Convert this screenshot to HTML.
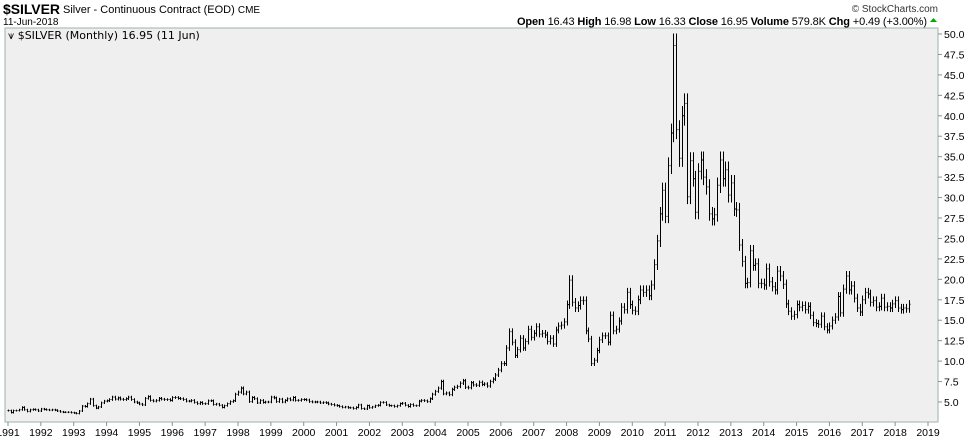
<!DOCTYPE html>
<html><head><meta charset="utf-8"><style>
body{margin:0;background:#fff;width:976px;height:442px;overflow:hidden;font-family:"Liberation Sans",Arial,sans-serif;}
svg{position:absolute;left:0;top:0}
</style></head><body>
<svg id="c" width="976" height="442">
<text x="3" y="14" font-size="14" font-weight="bold" textLength="57">$SILVER</text>
<text x="63" y="13" font-size="11">Silver - Continuous Contract (EOD) <tspan font-size="10">CME</tspan></text>
<text x="3" y="25" font-size="10">11-Jun-2018</text>
<text x="938" y="12" font-size="10" text-anchor="end" fill="#333">© StockCharts.com</text>
<text x="927" y="25" font-size="11" text-anchor="end" textLength="410"><tspan font-weight="bold">Open</tspan> 16.43 <tspan font-weight="bold">High</tspan> 16.98 <tspan font-weight="bold">Low</tspan> 16.33 <tspan font-weight="bold">Close</tspan> 16.95 <tspan font-weight="bold">Volume</tspan> 579.8K <tspan font-weight="bold">Chg</tspan> +0.49 (+3.00%)</text>
<polygon points="930,22 937,22 933.5,18" fill="#0a0"/>
<rect x="5" y="28" width="933" height="394" fill="#efefef" stroke="#9db3ab"/>
<text x="8" y="39" font-size="11" font-family="DejaVu Sans, sans-serif">⩛ $SILVER (Monthly) 16.95 (11 Jun)</text>
<g id="bars"></g>
<g id="yax"></g>
<g id="xax"></g>
</svg>
<script>
const yTicks=[5,7.5,10,12.5,15,17.5,20,22.5,25,27.5,30,32.5,35,37.5,40,42.5,45,47.5,50];
const years=[1991,1992,1993,1994,1995,1996,1997,1998,1999,2000,2001,2002,2003,2004,2005,2006,2007,2008,2009,2010,2011,2012,2013,2014,2015,2016,2017,2018,2019];
const closes=[
3.95,3.70,3.95,3.95,4.05,4.35,4.05,3.85,4.05,4.10,4.05,3.90,
4.15,4.10,4.05,4.00,4.05,4.00,3.90,3.80,3.75,3.75,3.75,3.70,
3.65,3.60,3.90,4.50,4.45,4.80,5.35,4.55,4.25,4.40,4.90,5.10,
5.15,5.30,5.60,5.35,5.50,5.35,5.30,5.40,5.60,5.30,5.00,4.90,
4.75,4.65,5.45,5.65,5.20,5.10,5.20,5.45,5.35,5.30,5.30,5.20,
5.55,5.55,5.45,5.40,5.30,5.10,5.10,5.20,4.95,4.80,4.95,4.80,
4.80,5.15,5.15,4.70,4.75,4.60,4.35,4.55,4.80,5.05,5.15,5.95,
6.20,6.70,6.00,6.20,5.05,5.55,5.40,4.90,5.20,4.95,5.00,5.00,
5.60,5.50,5.05,5.35,5.00,5.20,5.40,5.25,5.55,5.20,5.20,5.30,
5.30,5.25,5.05,5.00,5.00,5.00,4.90,4.95,4.90,4.75,4.70,4.60,
4.55,4.45,4.35,4.40,4.30,4.30,4.20,4.35,4.65,4.20,4.15,4.55,
4.30,4.40,4.55,4.60,4.95,4.95,4.65,4.55,4.55,4.45,4.55,4.80,
4.85,4.60,4.45,4.70,4.55,4.55,5.10,5.20,5.15,5.05,5.40,5.95,
6.30,6.70,7.50,6.00,6.10,5.90,6.55,6.80,6.90,7.30,7.60,6.80,
6.75,7.35,7.10,7.05,7.40,7.15,7.20,6.95,7.50,7.80,8.30,8.90,
9.70,9.70,11.60,13.60,12.30,10.70,11.40,12.80,11.60,12.40,13.90,12.90,
13.40,14.20,13.30,13.40,13.20,12.40,12.80,12.10,13.80,14.30,14.40,14.80,
16.90,19.90,17.20,16.50,16.80,17.40,17.40,13.70,12.70,9.70,10.10,11.30,
12.60,13.10,13.10,12.30,15.60,13.70,13.90,14.90,16.60,16.30,18.40,16.90,
16.20,16.10,17.50,18.70,18.40,18.70,18.00,19.30,21.80,24.70,28.00,30.90,
27.70,33.90,37.90,48.60,38.30,34.80,40.00,41.50,30.10,34.50,32.30,28.20,
33.20,34.60,32.50,31.30,28.00,27.40,27.90,31.50,34.60,32.30,33.40,30.30,
31.80,28.60,28.50,24.20,22.20,19.50,19.60,23.50,21.70,21.90,19.50,19.50,
19.30,21.30,19.70,19.10,18.70,21.00,20.40,19.40,17.00,16.10,15.50,15.70,
16.90,16.60,16.80,16.30,16.70,15.60,14.70,14.60,14.50,15.50,14.20,13.80,
14.30,15.00,15.40,17.90,15.90,18.80,20.40,18.70,19.20,17.70,16.50,16.00,
17.50,18.40,18.20,17.20,17.40,16.60,16.70,17.70,16.60,16.70,16.50,17.00,
17.40,16.50,16.30,16.50,16.40,16.95];
const NS='http://www.w3.org/2000/svg';
const y=p=>402-(p-5)*(368/45);
const x=i=>8+i*(32.857/12);
const bars=document.getElementById('bars');
function ln(g,x1,y1,x2,y2,w,c){const l=document.createElementNS(NS,'line');l.setAttribute('x1',x1);l.setAttribute('y1',y1);l.setAttribute('x2',x2);l.setAttribute('y2',y2);l.setAttribute('stroke',c||'#000');l.setAttribute('stroke-width',w||1);g.appendChild(l);return l;}
closes.forEach((c,i)=>{
  const o=i?closes[i-1]:c;
  const hi=Math.max(o,c)*1.03, lo=Math.min(o,c)*0.97;
  const g=document.createElementNS(NS,'g');
  
  
  const xx=Math.round(x(i))+0.5;
  ln(g,xx,y(hi),xx,y(lo),1);
  ln(g,xx-1,y(o),xx,y(o),1);
  ln(g,xx,y(c),xx+1,y(c),1);
  bars.appendChild(g);
});
const yax=document.getElementById('yax');
yTicks.forEach(v=>{
  const yy=y(v);
  ln(yax,938,yy,942,yy,1,'#7a9a90');
  const t=document.createElementNS(NS,'text');
  t.setAttribute('x',944);t.setAttribute('y',yy+4);t.setAttribute('font-size','10.5');
  
  
  t.textContent=v.toFixed(1);yax.appendChild(t);
});
const xax=document.getElementById('xax');
years.forEach((yr,k)=>{
  const xx=x(k*12);
  ln(xax,xx,422,xx,426,1,'#7a9a90');
  const t=document.createElementNS(NS,'text');
  t.setAttribute('x',xx);t.setAttribute('y',436);t.setAttribute('font-size','10.5');t.setAttribute('text-anchor','middle');
  
  
  t.textContent=yr;xax.appendChild(t);
});
</script>
</body></html>
